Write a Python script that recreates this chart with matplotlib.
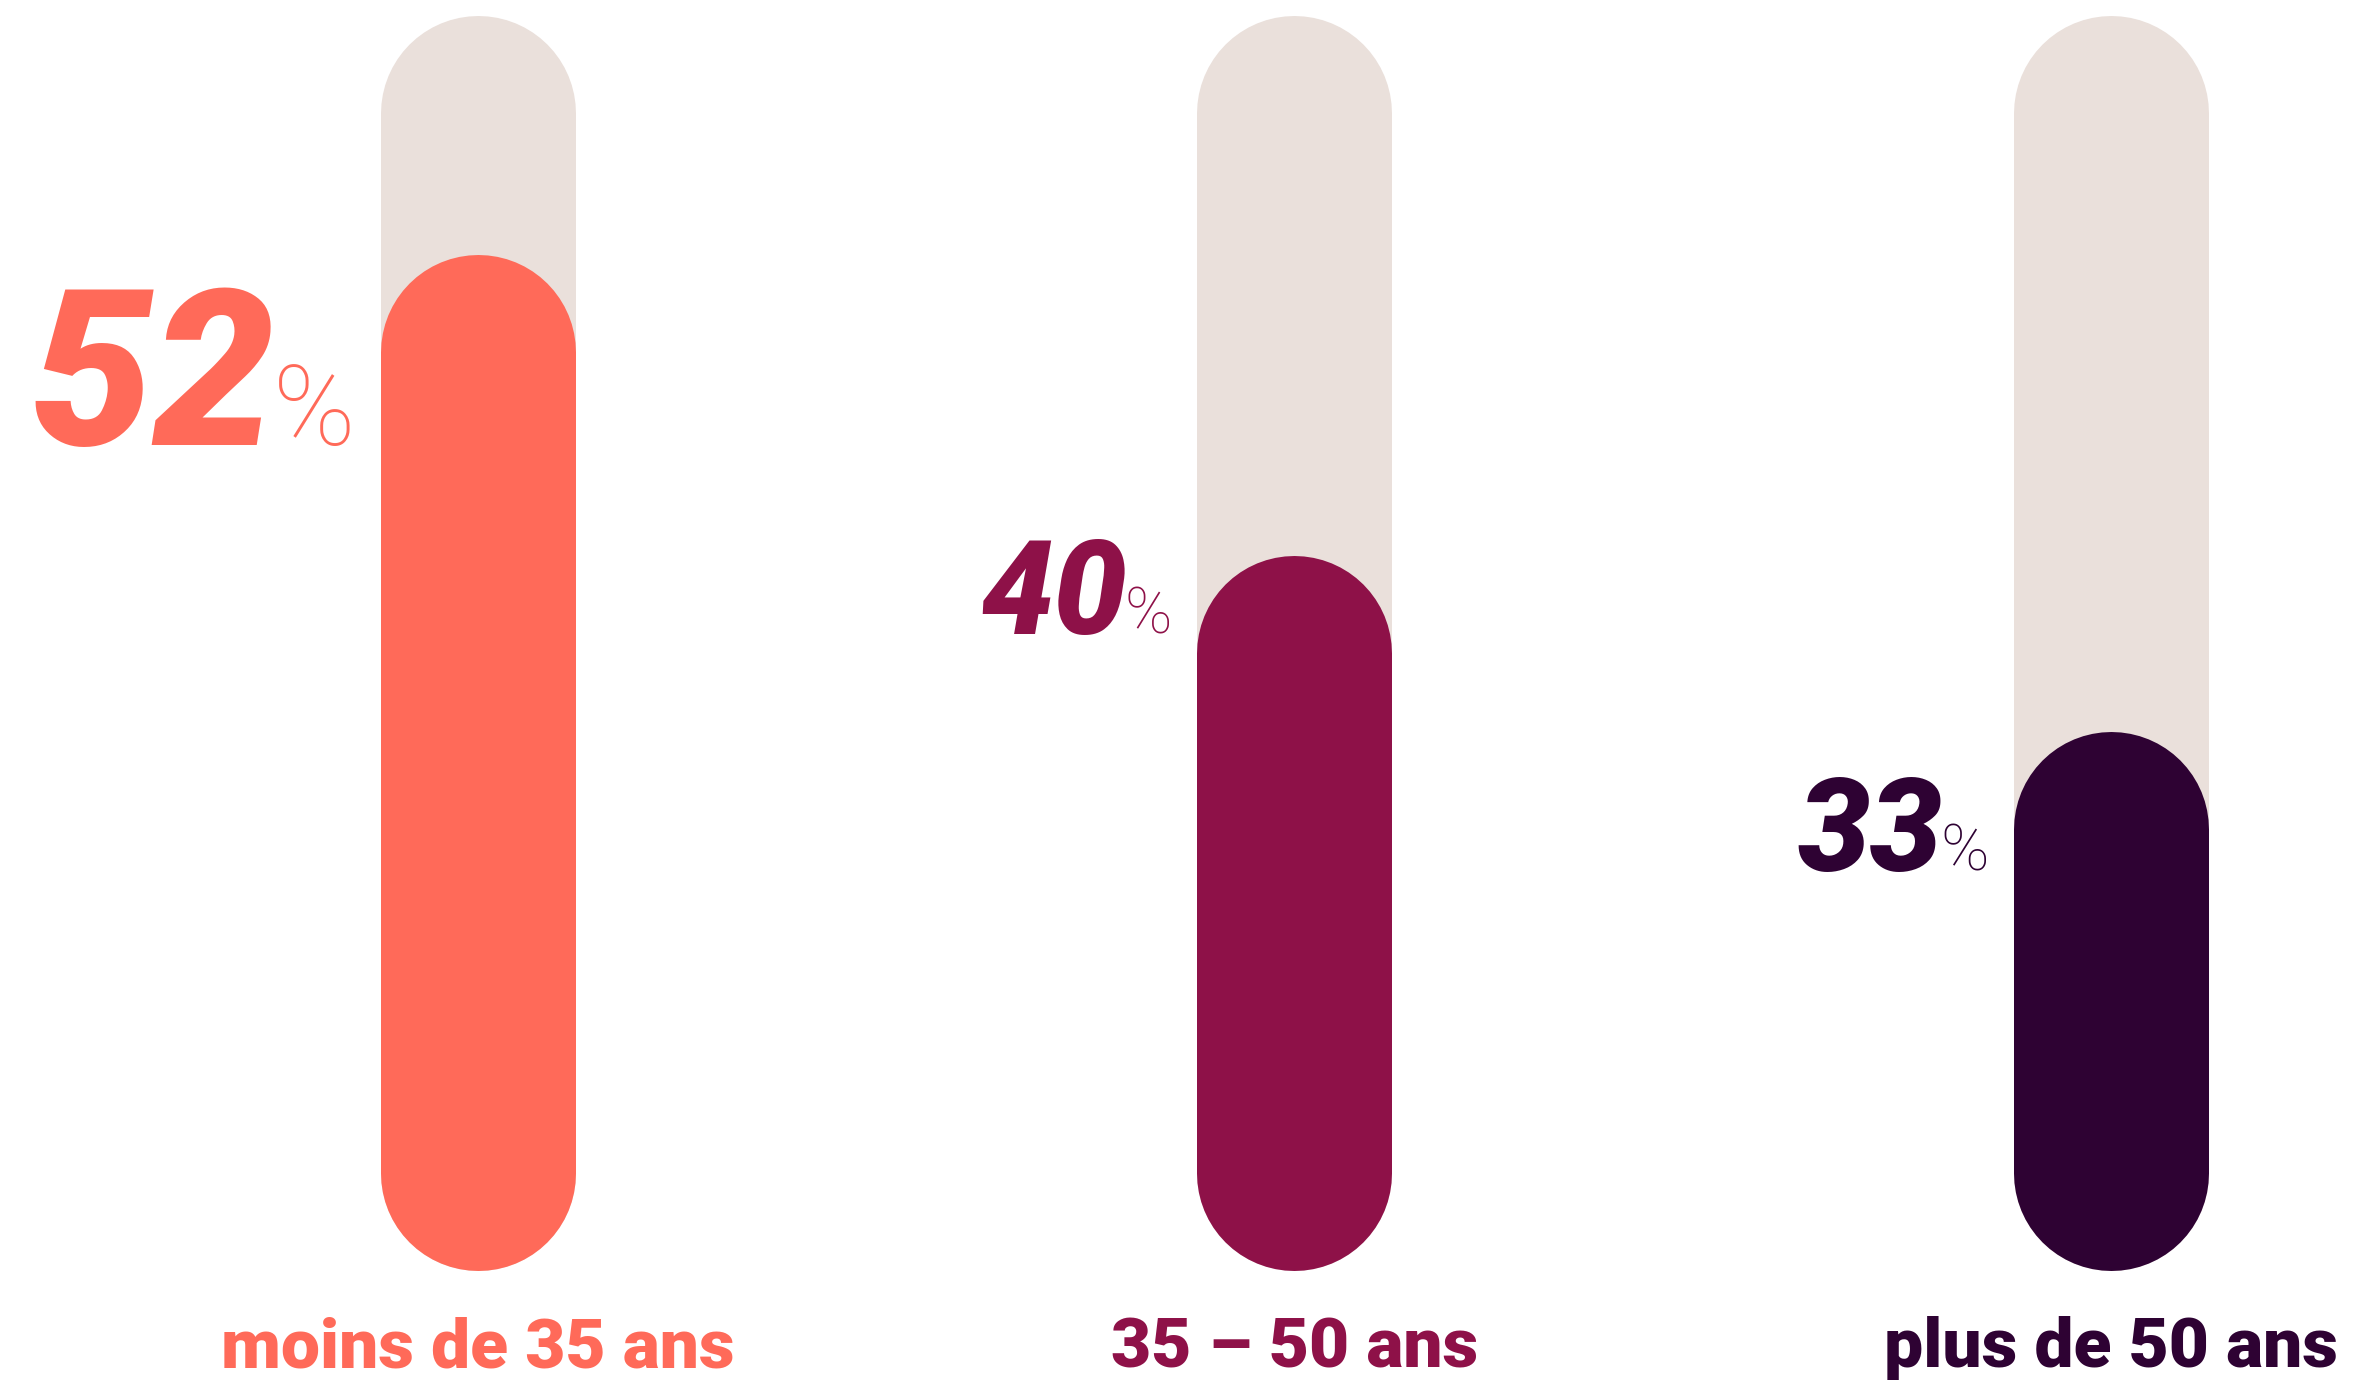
import matplotlib
matplotlib.use("Agg")
import matplotlib.pyplot as plt

# --- data ---------------------------------------------------------------
categories = ["moins de 35 ans", "35 – 50 ans", "plus de 50 ans"]
shares = [52, 40, 33]
value_labels = ["52", "40", "33"]

# --- style --------------------------------------------------------------
colors = ["#FF6A59", "#8E1148", "#2E0233"]
track_color = "#EAE0DB"
num_sizes = [157, 94, 93]        # size of the big figure, per label
pct_sizes = [80, 46, 47]         # size of the "%" sign
label_dy = [-67, 14, -30]        # vertical nudge of each value label (points)

W, H, DPI = 2356, 1380, 100
fig = plt.figure(figsize=(W / DPI, H / DPI), dpi=DPI)
ax = fig.add_axes([0, 0, 1, 1])
ax.set_xlim(-0.585, 2.30)
ax.set_ylim(11.07, 66.0)
ax.axis("off")

TRACK_LO, TRACK_HI = 19.3, 61.5
bar_w_px = 195
bar_w_pt = bar_w_px * 72 / DPI

# capsule tracks and filled capsules (round line caps give the rounded ends)
for i, (v, c) in enumerate(zip(shares, colors)):
    ax.plot([i, i], [TRACK_LO, TRACK_HI], color=track_color, lw=bar_w_pt,
            solid_capstyle="round", zorder=1)
    ax.plot([i, i], [TRACK_LO, v], color=c, lw=bar_w_pt,
            solid_capstyle="round", zorder=2)

# value labels: light "%" right next to the bar, heavy italic figure before it
gap_pt = (bar_w_px / 2 + 25) * 72 / DPI
pct_texts = []
for i, (v, c) in enumerate(zip(shares, colors)):
    t = ax.annotate("%", xy=(i, v), xytext=(-gap_pt, label_dy[i]),
                    textcoords="offset points", ha="right", va="baseline",
                    color=c, fontsize=pct_sizes[i], family="Roboto",
                    fontweight="light")
    pct_texts.append(t)

fig.canvas.draw()
renderer = fig.canvas.get_renderer()
for i, (v, c) in enumerate(zip(shares, colors)):
    bb = pct_texts[i].get_window_extent(renderer)
    w_pt = bb.width * 72 / DPI
    ax.annotate(value_labels[i], xy=(i, v),
                xytext=(-gap_pt - w_pt + 2, label_dy[i]),
                textcoords="offset points", ha="right", va="baseline",
                color=c, fontsize=num_sizes[i], family="Roboto",
                fontweight="heavy", fontstyle="italic")

# category names under each bar
for i, (name, c) in enumerate(zip(categories, colors)):
    ax.text(i, 1 - 1367 / H, name, transform=ax.get_xaxis_transform(),
            ha="center", va="baseline", color=c, fontsize=50,
            family="Roboto", fontweight="heavy")

fig.savefig("out.png", dpi=DPI, facecolor="white")
